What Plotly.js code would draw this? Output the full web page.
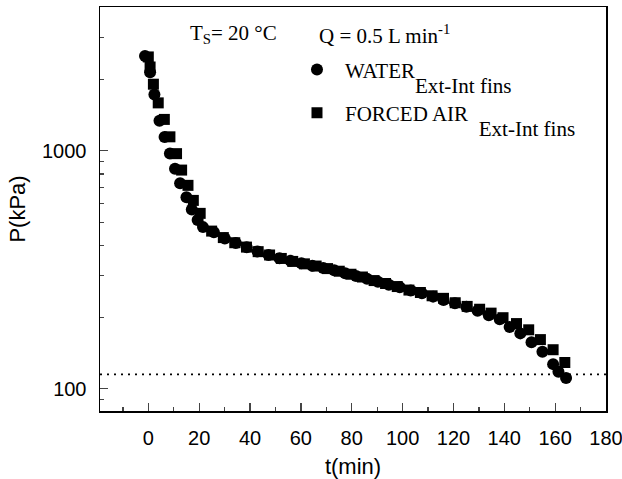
<!DOCTYPE html>
<html>
<head>
<meta charset="utf-8">
<script src="https://cdn.plot.ly/plotly-3.0.1.min.js"></script>
<style>html,body{margin:0;padding:0;background:#fff;}#chart{width:622px;height:479px;}</style>
</head>
<body>
<div id="chart"></div>
<script>
// Water, Ext-Int fins (circles)
const waterT = [-1.3, 0.7, 2.4, 4.4, 6.4, 8.5, 10.5, 12.5, 15.0, 17.1, 19.4, 21.5,
  25.8, 30.1, 34.4, 38.7, 43.0, 47.3, 51.6, 55.9, 60.2, 64.5, 68.8, 73.1, 77.4, 81.7,
  86.0, 90.3, 94.6, 98.9, 103.2, 107.6, 112.0, 116.1, 120.6, 125.1, 129.5, 133.9,
  138.2, 142.1, 146.3, 150.7, 155.0, 159.2, 161.3, 164.3];
const waterP = [2500, 2140, 1725, 1337, 1142, 975, 840, 731, 638, 567, 512, 478,
  455, 428, 410, 393, 378, 365, 354, 345, 337, 329, 322, 315, 306, 298,
  290, 282, 274, 267, 259, 252, 244, 236, 229, 221, 213, 204,
  196, 182, 171, 157, 143, 127, 118, 111];
// Forced air, Ext-Int fins (squares)
const airT = [0.0, 0.7, 2.0, 3.9, 6.3, 8.5, 11.1, 13.1, 15.6, 17.7, 20.4,
  24.9, 29.5, 34.0, 38.6, 43.2, 47.7, 52.3, 56.8, 61.4, 66.0, 70.5, 75.1, 79.7,
  84.2, 88.8, 93.3, 97.9, 102.5, 107.0, 111.6, 116.1, 120.7, 125.4, 130.3, 134.8,
  139.5, 144.8, 149.6, 154.2, 159.2, 163.8];
const airP = [2480, 2250, 1905, 1590, 1355, 1145, 973, 830, 716, 619, 546,
  460, 432, 411, 394, 377, 365, 353, 343, 335, 328, 320, 312, 303,
  295, 285, 277, 269, 260, 254, 246, 240, 230, 222, 216, 208,
  199, 188, 177, 161, 146, 129];
const refLineP = 115;
const xTickVals = [0, 20, 40, 60, 80, 100, 120, 140, 160, 180];
const yTickVals = [100, 1000];
const yMinorVals = [90, 200, 300, 400, 500, 600, 700, 800, 900, 2000, 3000];

const serif = 'Liberation Serif, Times New Roman, serif';
const sans = 'Liberation Sans, Arial, sans-serif';
// subscript at (almost) full size, shifted well below the baseline
const subBig = s => '<span style="font-size:43px"><sub><sub>' + s + '</sub></sub></span>';

const traces = [
  {x: waterT, y: waterP, type: 'scatter', mode: 'markers',
   name: 'WATER' + subBig('Ext-Int fins'), legendgroup: 'a',
   marker: {symbol: 'circle', size: 12, color: '#000'}},
  {x: airT, y: airP, type: 'scatter', mode: 'markers',
   name: 'FORCED AIR' + subBig('\u00a0\u00a0Ext-Int fins') + '<br> ', legendgroup: 'b',
   marker: {symbol: 'square', size: 11, color: '#000'}}
];

const layout = {
  width: 622, height: 479,
  margin: {l: 100, r: 16, t: 7, b: 68},
  paper_bgcolor: '#fff', plot_bgcolor: '#fff',
  showlegend: true,
  legend: {x: 0.3735, y: 0.895, xanchor: 'left', yanchor: 'top', itemwidth: 46,
    valign: 'top',
    font: {family: serif, size: 21, color: '#000'}, bgcolor: 'rgba(0,0,0,0)',
    tracegroupgap: 13, itemsizing: 'trace'},
  xaxis: {range: [-19, 180], tickvals: xTickVals, ticks: 'inside', ticklen: 8,
    tickwidth: 1.3, showgrid: false, zeroline: false, showline: true, linewidth: 1.5,
    linecolor: '#000', mirror: true, tickfont: {family: sans, size: 20, color: '#000'},
    ticklabelstandoff: 8, ticklabeloverflow: 'allow',
    minor: {dtick: 10, tick0: 0, ticks: 'inside', ticklen: 4, tickwidth: 1.3, showgrid: false},
    title: {text: 't(min)', font: {family: sans, size: 22, color: '#000'}, standoff: 12}},
  yaxis: {type: 'log', range: [Math.log10(80.7), Math.log10(4020)], tickvals: yTickVals,
    ticktext: ['100', '1000'], ticks: 'inside', ticklen: 8, tickwidth: 1.3, showgrid: false,
    zeroline: false, showline: true, linewidth: 1.5, linecolor: '#000', mirror: true,
    tickfont: {family: sans, size: 20, color: '#000'}, ticklabelstandoff: 8,
    minor: {tickmode: 'array', tickvals: yMinorVals, ticks: 'inside', ticklen: 4, tickwidth: 1.3, showgrid: false},
    title: {text: 'P(kPa)', font: {family: sans, size: 22, color: '#000'}, standoff: 10}},
  shapes: [
    {type: 'line', xref: 'paper', x0: 0, x1: 1, yref: 'y', y0: refLineP, y1: refLineP,
     line: {color: '#000', width: 1.6, dash: '2px,5px'}}
  ],
  annotations: [
    {xref: 'paper', yref: 'paper', x: 0.174, y: 0.932, xanchor: 'left', yanchor: 'middle',
     showarrow: false, text: 'T<sub>S</sub>= 20 °C', font: {family: serif, size: 21, color: '#000'}},
    {xref: 'paper', yref: 'paper', x: 0.429, y: 0.932, xanchor: 'left', yanchor: 'middle',
     showarrow: false, text: 'Q = 0.5 L min<sup>-1</sup>', font: {family: serif, size: 21, color: '#000'}}
  ]
};

Plotly.newPlot('chart', traces, layout, {displayModeBar: false, staticPlot: true});
</script>
</body>
</html>
